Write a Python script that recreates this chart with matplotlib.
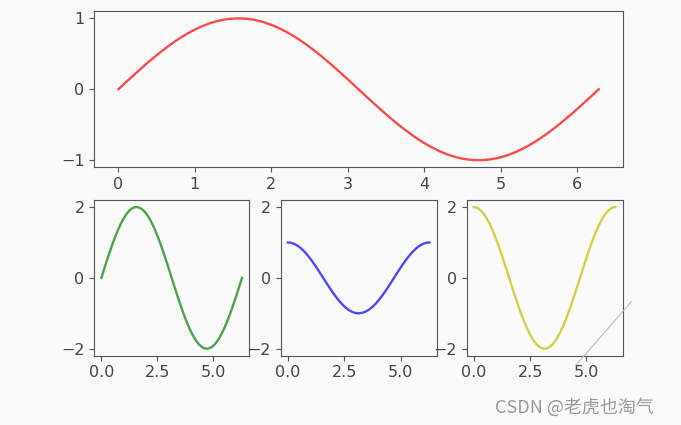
import numpy as np
import matplotlib
matplotlib.use("Agg")
import matplotlib.pyplot as plt
from matplotlib.lines import Line2D

# Data: x samples over one period and the four curves (amplitude, function)
x = np.linspace(0, 2 * np.pi, 100)
top_amp = 1.0          # sin(x)
green_amp = 2.0        # 2*sin(x)
blue_amp = 1.0         # cos(x)
yellow_amp = 2.0       # 2*cos(x)
top_yticks = [-1, 0, 1]
top_xticks = [0, 1, 2, 3, 4, 5, 6]
bottom_yticks = [-2, 0, 2]
bottom_xticks = [0.0, 2.5, 5.0]

bg = "#fafafa"
fig = plt.figure(figsize=(6.81, 4.25), dpi=100, facecolor=bg)

def style(ax):
    ax.set_facecolor(bg)
    for s in ax.spines.values():
        s.set_color("#555555")
    ax.tick_params(colors="#555555", labelcolor="#444444", labelsize=11.5)

ax0 = fig.add_axes([0.1385, 0.6064, 0.7759, 0.3670])
ax0.plot(x, top_amp * np.sin(x), color="r", alpha=0.7, lw=1.7)
ax0.set_yticks(top_yticks)
ax0.set_xticks(top_xticks)
style(ax0)

ax1 = fig.add_axes([0.1385, 0.163, 0.2272, 0.3664])
ax2 = fig.add_axes([0.4122, 0.163, 0.2288, 0.3664], sharey=ax1)
ax3 = fig.add_axes([0.6853, 0.163, 0.2288, 0.3664], sharey=ax1)
ax1.plot(x, green_amp * np.sin(x), color="g", alpha=0.7, lw=1.7)
ax2.plot(x, blue_amp * np.cos(x), color="b", alpha=0.7, lw=1.7)
ax3.plot(x, yellow_amp * np.cos(x), color="y", alpha=0.7, lw=1.7)
for ax in (ax1, ax2, ax3):
    ax.set_yticks(bottom_yticks)
    ax.set_xticks(bottom_xticks)
    style(ax)
    ax.tick_params(labelleft=True)

# watermark artefacts
fig.add_artist(Line2D([0.8458, 0.9266], [0.1412, 0.2894], transform=fig.transFigure,
                      color="#bbbbbb", lw=0.8))
fig.text(0.727, 0.030, "CSDN @老虎也淘气", fontsize=13, color="#999999",
         family=["Noto Sans CJK SC", "DejaVu Sans"])

fig.savefig("out.png", dpi=100, facecolor=bg)
